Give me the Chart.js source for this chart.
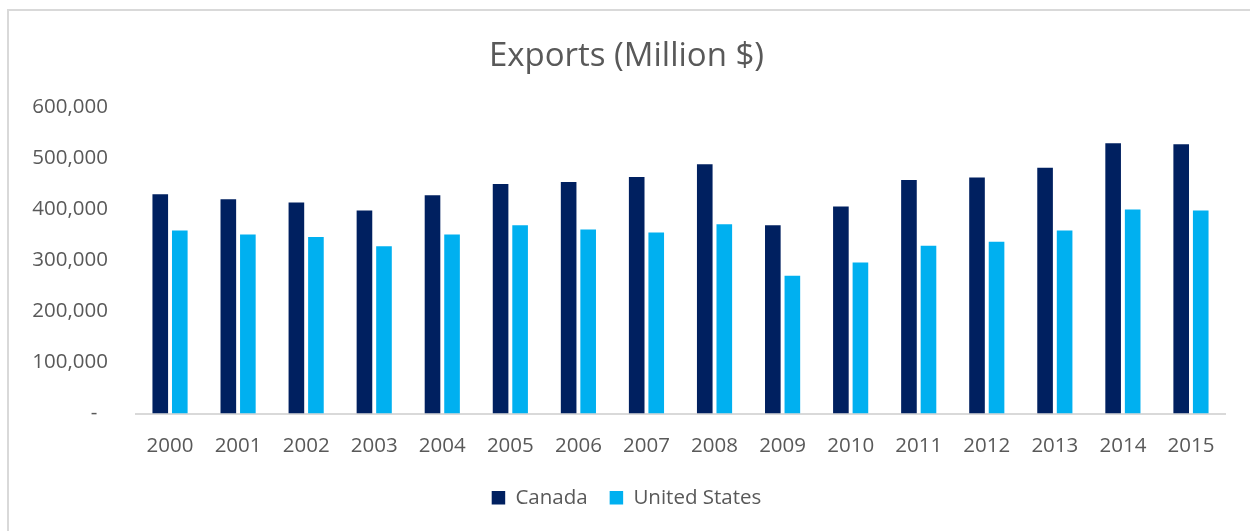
<!DOCTYPE html>
<html>
<head>
<meta charset="utf-8">
<script src="https://cdn.jsdelivr.net/npm/chart.js@4"></script>
<style>
  html, body { margin: 0; padding: 0; background: #fff; }
  #wrap { position: relative; width: 1250px; height: 531px; overflow: hidden; }
  #frame { position: absolute; left: 7px; top: 9px; width: 1300px; height: 600px;
           border-left: 2px solid #d9d9d9; border-top: 2px solid #d9d9d9; }
  #chart { position: absolute; left: 0; top: 0; }
</style>
</head>
<body>
<div id="wrap">
  <div id="frame"></div>
  <canvas id="chart" width="1250" height="531"></canvas>
</div>
<script>
const years = ['2000', '2001', '2002', '2003', '2004', '2005', '2006', '2007',
               '2008', '2009', '2010', '2011', '2012', '2013', '2014', '2015'];
const canada = [430000, 420000, 414000, 398000, 428000, 450000, 454000, 464000,
                489000, 369000, 406000, 458000, 463000, 482000, 530000, 528000];
const unitedStates = [359000, 351000, 346000, 328000, 351000, 369000, 361000, 355000,
                      371000, 270000, 296000, 329000, 337000, 359000, 400000, 398000];
const yTicks = [0, 100000, 200000, 300000, 400000, 500000, 600000];

const textColor = '#595959';
const font = 'Open Sans';

const barOptions = {
    categoryPercentage: 0.574,
    barPercentage: 0.8,
};

new Chart(document.getElementById('chart').getContext('2d'), {
    type: 'bar',
    data: {
        labels: years,
        datasets: [
            {
                ...barOptions,
                label: 'Canada',
                backgroundColor: '#002060',
                data: canada,
            },
            {
                ...barOptions,
                label: 'United States',
                backgroundColor: '#00B0F0',
                data: unitedStates,
            },
        ],
    },
    options: {
        responsive: false,
        animation: false,
        layout: {
            // left padding nudges the title and legend towards the frame centre
            padding: { left: 28, right: 25, top: 0, bottom: 13 },
        },
        plugins: {
            title: {
                display: true,
                text: 'Exports (Million $)',
                color: textColor,
                font: { family: font, size: 33, weight: 'normal' },
                padding: { top: 37, bottom: 31 },
            },
            legend: {
                display: true,
                position: 'bottom',
                labels: {
                    color: textColor,
                    font: { family: font, size: 20.5 },
                    boxWidth: 13.5,
                    boxHeight: 13.5,
                    padding: 22,
                },
            },
            tooltip: { enabled: false },
        },
        scales: {
            y: {
                min: 0,
                max: 600000,
                afterFit: (scale) => { scale.width = 108; },
                afterBuildTicks: (scale) => {
                    scale.ticks = yTicks.map((v) => ({ value: v }));
                },
                ticks: {
                    color: textColor,
                    font: { family: font, size: 20.5 },
                    padding: 28,
                    callback: (v) => (v === 0 ? '-  ' : v.toLocaleString('en-US')),
                },
                grid: { display: false, drawTicks: false },
                border: { display: false },
            },
            x: {
                afterFit: (scale) => { scale.height = 52; },
                ticks: {
                    color: textColor,
                    font: { family: font, size: 20.5 },
                    padding: 20,
                    maxRotation: 0,
                },
                grid: { display: false, drawTicks: false },
                border: { display: true, color: '#d9d9d9', width: 2 },
            },
        },
    },
});
</script>
</body>
</html>
